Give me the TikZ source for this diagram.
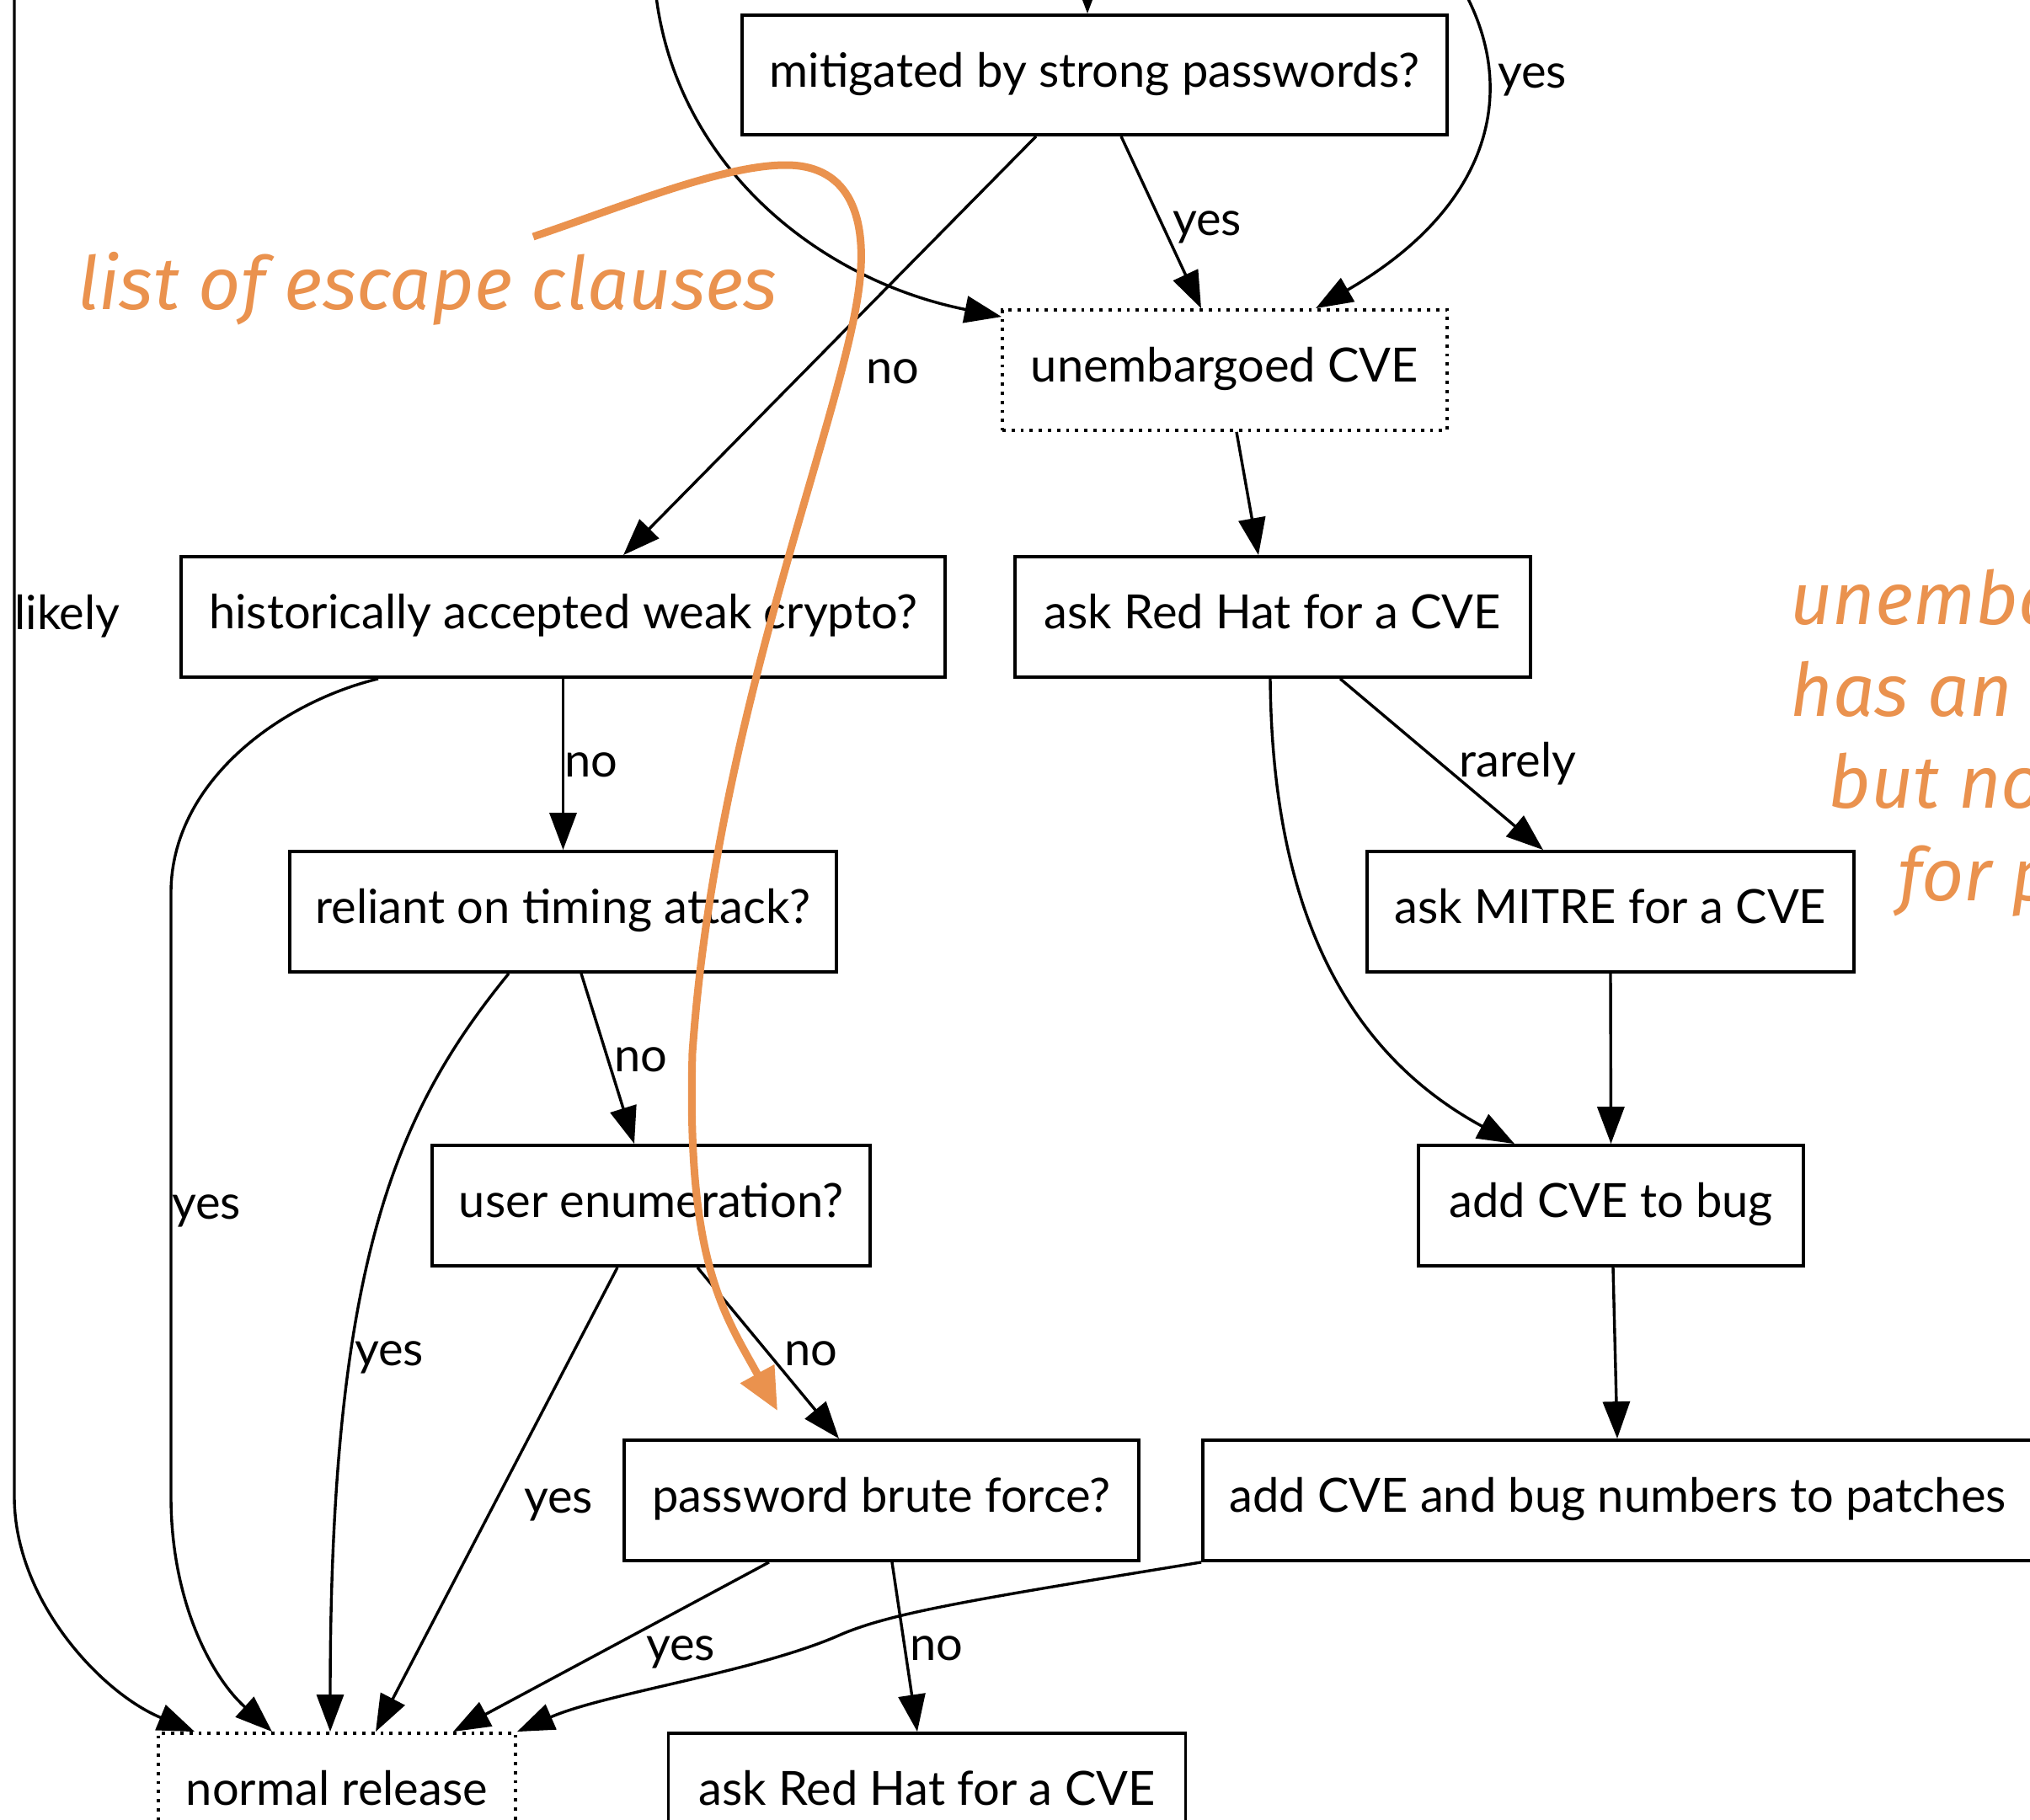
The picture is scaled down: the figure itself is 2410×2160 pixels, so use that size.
\documentclass[tikz,border=0pt]{standalone}
\usepackage{fontspec}
\setmainfont{Lato}
\newfontfamily\notefont{Fira Sans}
\usetikzlibrary{arrows.meta,calc}
\definecolor{note}{RGB}{234,146,78}
\begin{document}
\begin{tikzpicture}[x=0.5pt,y=-0.5pt,
  every node/.style={font=\fontsize{28}{34}\selectfont},
  box/.style={draw, line width=1.9pt, minimum height=71.5pt, inner sep=0pt,
    text height=20pt, text depth=5.6pt},
  dotbox/.style={box, dash pattern=on 1.9pt off 3.5pt},
  flow/.style={line width=1.7pt, -{Triangle[length=22pt,width=16pt]}},
  lbl/.style={anchor=mid, inner sep=0pt},
  notetext/.style={text=note, font=\notefont\itshape\fontsize{43.7}{54}\selectfont, inner sep=0pt, anchor=base west}
]
\useasboundingbox (0,0) rectangle (2410,2160);
\clip (0,0) rectangle (2410,2160);
\fill[white] (0,0) rectangle (2410,2160);

% decision and action boxes
\node[box, minimum width=418.5pt, minimum height=71pt] (mit) at (1299.5,89) {mitigated by strong passwords?};
\node[dotbox, minimum width=264pt] (unemb) at (1454,439.5) {unembargoed CVE};
\node[box, minimum width=453.5pt] (hist) at (668.5,732.5) {historically accepted weak crypto?};
\node[box, minimum width=306pt] (rh1) at (1511,732.5) {ask Red Hat for a CVE};
\node[box, minimum width=324.5pt] (rel) at (668.5,1082.5) {reliant on timing attack?};
\node[box, minimum width=289pt] (mitre) at (1912,1082.5) {ask MITRE for a CVE};
\node[box, minimum width=260pt] (user) at (773,1431.5) {user enumeration?};
\node[box, minimum width=228.5pt] (bug) at (1912.5,1431.5) {add CVE to bug};
\node[box, minimum width=305.5pt] (pw) at (1046.5,1781.5) {password brute force?};
\node[box, minimum width=492.5pt] (patches) at (1920.5,1781.5) {add CVE and bug numbers to patches};
\node[dotbox, minimum width=212pt] (normal) at (400,2129.5) {normal release};
\node[box, minimum width=307pt] (rh2) at (1100.5,2129.5) {ask Red Hat for a CVE};

% incoming edges from above
\coordinate (in1) at (1291,-60);
\coordinate (in2) at (776,-40);
\coordinate (in3) at (1720,-40);
\coordinate (in4) at (17,-40);
\draw[flow] (in1) -- ($(mit.north)+(-8.5,0)$);
\draw[flow] (in2) .. controls (785,180) and (960,330) .. ($(unemb.north west)+(1,10)$);
\draw[flow] (in3) .. controls (1810,90) and (1780,240) .. ($(unemb.north)+(108,0)$);
\draw[flow] (in4) -- (17,1777) .. controls (17,1900) and (120,2010) .. ($(normal.north west)+(45,0)$);

% edges between boxes
\draw[flow] ($(mit.south)+(31.5,0)$) -- ($(unemb.north)+(-28,0)$);
\draw[flow] ($(mit.south)+(-69.5,0)$) -- ($(hist.north)+(71.5,0)$);
\draw[flow] ($(unemb.south)+(14,0)$) -- ($(rh1.north)+(-17,0)$);
\draw[flow] ($(rh1.south)+(80,0)$) -- ($(mitre.north)+(-80,0)$);
\draw[flow] ($(rh1.south)+(-3,0)$) .. controls (1510,1050) and (1580,1240) .. ($(bug.north)+(-114.5,0)$);
\draw[flow] (mitre.south) -- (bug.north);
\draw[flow] ($(bug.south)+(2.5,0)$) -- ($(patches.north)+(-0.5,0)$);
\draw[flow] (hist.south) -- (rel.north);
\draw[flow] ($(hist.south)+(-219.5,0)$) .. controls (330,835) and (203,930) .. (203,1060)
  -- (203,1777) .. controls (203,1900) and (250,1990) .. ($(normal.north)+(-77,0)$);
\draw[flow] ($(rel.south)+(21.5,0)$) -- ($(user.north)+(-20,0)$);
\draw[flow] ($(rel.south)+(-64.5,0)$) .. controls (470,1320) and (392,1500) .. ($(normal.north)+(-8,0)$);
\draw[flow] ($(user.south)+(55,0)$) -- ($(pw.north)+(-50.5,0)$);
\draw[flow] ($(user.south)+(-40,0)$) -- ($(normal.north)+(46,0)$);
\draw[flow] ($(pw.south)+(-133.5,0)$) -- ($(normal.north)+(138,0)$);
\draw[flow] ($(pw.south)+(12.5,0)$) -- ($(rh2.north)+(-11.5,0)$);
\draw[flow] (patches.south west) .. controls (1150,1900) and (1060,1915) .. (1000,1940)
  .. controls (900,1985) and (720,2010) .. (normal.north east);

% edge labels
\node[lbl] (l1) at (1819,99) {yes};
\node[lbl] (l2) at (1433,274) {yes};
\node[lbl] (l3) at (1060,450) {no};
\node[lbl] (l4) at (80,742) {likely};
\node[lbl] (l5) at (702,917) {no};
\node[lbl] (l6) at (1802,917) {rarely};
\node[lbl] (l7) at (245,1442) {yes};
\node[lbl] (l8) at (761,1267) {no};
\node[lbl] (l9) at (462,1616) {yes};
\node[lbl] (l10) at (963,1616) {no};
\node[lbl] (l11) at (663,1791) {yes};
\node[lbl] (l12) at (808,1966) {yes};
\node[lbl] (l13) at (1112,1966) {no};

% hand-drawn annotations
\draw[note, line width=4.5pt, -{Triangle[length=25pt,width=22pt]}]
  (633,281) .. controls (740,245) and (860,195) .. (935,196)
  .. controls (1010,197) and (1030,260) .. (1020,340)
  .. controls (1000,500) and (850,850) .. (822,1250)
  .. controls (815,1500) and (860,1560) .. (923,1675);
\node[notetext] (esc) at (92,367) {list of escape clauses};
\node[notetext] (n1) at (2125,741) {unemba};
\node[notetext] (n2) at (2125,850) {has an};
\node[notetext] (n3) at (2170,959) {but no};
\node[notetext] (n4) at (2253,1069) {for p};
\end{tikzpicture}
\end{document}
